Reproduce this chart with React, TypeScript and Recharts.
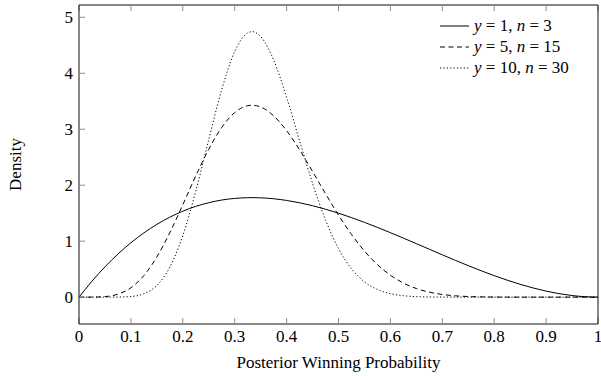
import { Line, LineChart, XAxis, YAxis } from "recharts"

// posterior winning probability grid (extra point at 1/3 = mode)
const probs = [
  0, 0.025, 0.05, 0.075, 0.1, 0.125, 0.15, 0.175, 0.2, 0.225, 0.25, 0.275, 0.3, 0.325, 0.3333,
  0.35, 0.375, 0.4, 0.425, 0.45, 0.475, 0.5, 0.525, 0.55, 0.575, 0.6, 0.625, 0.65, 0.675, 0.7,
  0.725, 0.75, 0.775, 0.8, 0.825, 0.85, 0.875, 0.9, 0.925, 0.95, 0.975, 1,
]

// y = 1, n = 3
const densityA = [
  0, 0.285, 0.5415, 0.77, 0.972, 1.148, 1.3005, 1.429, 1.536, 1.622, 1.6875, 1.735, 1.764, 1.777,
  1.778, 1.7745, 1.758, 1.728, 1.686, 1.6335, 1.571, 1.5, 1.421, 1.3365, 1.246, 1.152, 1.055,
  0.9555, 0.856, 0.756, 0.658, 0.5625, 0.471, 0.384, 0.303, 0.2295, 0.164, 0.108, 0.0624, 0.0285,
  0.0073, 0,
]

// y = 5, n = 15
const densityB = [
  0, 0.0004, 0.009, 0.0523, 0.1675, 0.3858, 0.7183, 1.1519, 1.6509, 2.1658, 2.6424, 3.032, 3.298,
  3.4207, 3.429, 3.3974, 3.2406, 2.975, 2.6321, 2.2458, 1.8481, 1.4663, 1.1205, 0.8234, 0.5806,
  0.3918, 0.252, 0.1538, 0.0885, 0.0477, 0.0238, 0.0109, 0.0045, 0.0016, 0.0005, 0.0001, 0, 0, 0,
  0, 0, 0,
]

// y = 10, n = 30
const densityC = [
  0, 0, 0, 0.0011, 0.0113, 0.06, 0.2082, 0.5353, 1.0996, 1.8924, 2.817, 3.709, 4.3885, 4.7213,
  4.7435, 4.6571, 4.2371, 3.5708, 2.7951, 2.0347, 1.378, 0.8674, 0.5065, 0.2735, 0.136, 0.0619,
  0.0256, 0.0095, 0.0032, 0.0009, 0.0002, 0, 0, 0, 0, 0, 0, 0, 0, 0, 0, 0,
]

const xTicks = [0, 0.1, 0.2, 0.3, 0.4, 0.5, 0.6, 0.7, 0.8, 0.9, 1]
const yTicks = [0, 1, 2, 3, 4, 5]

const data = probs.map((p, i) => ({ p, a: densityA[i], b: densityB[i], c: densityC[i] }))

const FONT = "Liberation Serif, DejaVu Serif, serif"
const TICK_LEN = 6
const tickStyle = { stroke: "#8c8c8c" }

const noLabel = () => <g />

const XTick = ({ x, y, payload }: any) => (
  <text x={x} y={y + TICK_LEN + 18} textAnchor="middle" fontFamily={FONT} fontSize={17} fill="#000">
    {payload.value}
  </text>
)

const YTick = ({ x, y, payload }: any) => (
  <text x={x - TICK_LEN - 6} y={y} dy="0.34em" textAnchor="end" fontFamily={FONT} fontSize={17} fill="#000">
    {payload.value}
  </text>
)

const series = [
  { key: "a", dash: undefined, y: 1, n: 3 },
  { key: "b", dash: "5 3.5", y: 5, n: 15 },
  { key: "c", dash: "1.2 2.2", y: 10, n: 30 },
]

export default function App() {
  return (
    <div style={{ position: "absolute", left: 0, top: 0, width: 601, height: 376, background: "#fff" }}>
      <LineChart width={601} height={376} data={data} margin={{ top: 5, right: 3, bottom: 52, left: 79 }}>
        <XAxis
          dataKey="p"
          type="number"
          domain={[0, 1]}
          ticks={xTicks}
          interval={0}
          mirror
          height={1}
          tickSize={TICK_LEN}
          tickMargin={0}
          tick={<XTick />}
          tickLine={tickStyle}
          stroke="#111"
          label={{
            content: (props: any) => {
              const vb = props.viewBox
              return (
                <text x={vb.x + vb.width / 2} y={vb.y + vb.height + 44} textAnchor="middle" fontFamily={FONT} fontSize={17} fill="#000">
                  Posterior Winning Probability
                </text>
              )
            },
          }}
        />
        <XAxis
          xAxisId="top"
          orientation="top"
          dataKey="p"
          type="number"
          domain={[0, 1]}
          ticks={xTicks}
          interval={0}
          mirror
          height={1}
          tickSize={TICK_LEN}
          tick={noLabel}
          tickLine={tickStyle}
          stroke="#111"
        />
        <YAxis
          type="number"
          domain={[-0.48, 5.22]}
          ticks={yTicks}
          interval={0}
          mirror
          width={1}
          tickSize={TICK_LEN}
          tickMargin={0}
          tick={<YTick />}
          tickLine={tickStyle}
          stroke="#111"
          label={{
            content: (props: any) => {
              const vb = props.viewBox
              const cx = vb.x - 64
              const cy = vb.y + vb.height / 2
              return (
                <text
                  x={cx}
                  y={cy}
                  transform={`rotate(-90, ${cx}, ${cy})`}
                  textAnchor="middle"
                  dominantBaseline="central"
                  fontFamily={FONT}
                  fontSize={17}
                  fill="#000"
                >
                  Density
                </text>
              )
            },
          }}
        />
        <YAxis
          yAxisId="right"
          orientation="right"
          type="number"
          domain={[-0.48, 5.22]}
          ticks={yTicks}
          interval={0}
          mirror
          width={1}
          tickSize={TICK_LEN}
          tick={noLabel}
          tickLine={tickStyle}
          stroke="#111"
        />
        {series.map((s) => (
          <Line
            key={s.key}
            type="monotone"
            dataKey={s.key}
            stroke="#000"
            strokeWidth={1}
            strokeDasharray={s.dash}
            dot={false}
            activeDot={false}
            isAnimationActive={false}
          />
        ))}
      </LineChart>
      <div style={{ position: "absolute", left: 438, top: 15, fontFamily: FONT, fontSize: 17, color: "#000" }}>
        {series.map((s) => (
          <div key={s.key} style={{ display: "flex", alignItems: "center", height: 21 }}>
            <svg width={32} height={10} style={{ marginRight: 4 }}>
              <line x1={2} x2={31} y1={5} y2={5} stroke="#000" strokeWidth={1} strokeDasharray={s.dash} />
            </svg>
            <span style={{ whiteSpace: "pre" }}>
              <i>y</i> = {s.y}, <i>n</i> = {s.n}
            </span>
          </div>
        ))}
      </div>
    </div>
  )
}
